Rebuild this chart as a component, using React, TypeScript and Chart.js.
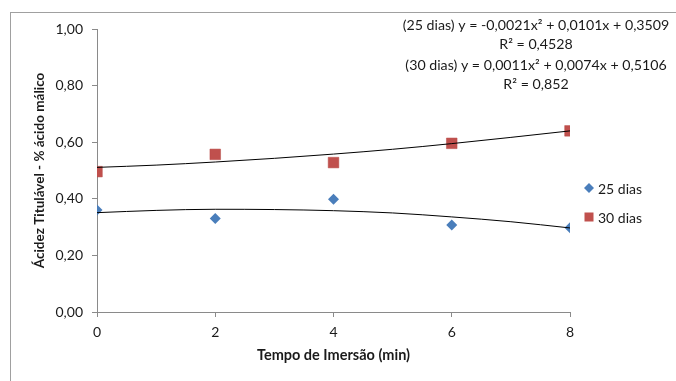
import React, { useEffect, useRef } from "react";
import { Chart, registerables } from "chart.js";

Chart.register(...registerables);

const xValues = [0, 2, 4, 6, 8];
const dias25 = [0.36, 0.33, 0.398, 0.307, 0.298];
const dias30 = [0.496, 0.557, 0.528, 0.596, 0.64];

const trendX = [0, 1, 2, 3, 4, 5, 6, 7, 8];
const trend25 = [0.351, 0.359, 0.363, 0.362, 0.358, 0.35, 0.336, 0.319, 0.297];
const trend30 = [0.511, 0.519, 0.53, 0.543, 0.558, 0.575, 0.595, 0.617, 0.64];

const seriesLabels = ["25 dias", "30 dias"];
const equationLines = [
  "(25 dias) y = -0,0021x² + 0,0101x + 0,3509",
  "R² = 0,4528",
  "(30 dias) y = 0,0011x² + 0,0074x + 0,5106",
  "R² = 0,852",
];
const yTitle = "Ácidez Titulável - % ácido málico";
const xTitle = "Tempo de Imersão (min)";

const FONT = "Lato, 'Open Sans', sans-serif";
const BLUE = "#4a7ebb";
const RED = "#c0504d";
const AXIS = "#8a8a8a";
const TEXT = "#1a1a1a";

const overlayPlugin = {
  id: "overlay",
  afterDraw(chart: any) {
    const ctx = chart.ctx;
    const area = chart.chartArea;
    ctx.save();
    // equations
    ctx.fillStyle = TEXT;
    ctx.font = `14.2px ${FONT}`;
    ctx.textAlign = "center";
    ctx.textBaseline = "middle";
    const cx = 536;
    const ys = [25, 44, 65, 84];
    equationLines.forEach((t, i) => ctx.fillText(t, cx, ys[i]));
    // legend
    const lx = area.right + 19;
    const ly = [188, 217];
    // diamond
    ctx.fillStyle = BLUE;
    ctx.beginPath();
    ctx.moveTo(lx, ly[0] - 5);
    ctx.lineTo(lx + 5, ly[0]);
    ctx.lineTo(lx, ly[0] + 5);
    ctx.lineTo(lx - 5, ly[0]);
    ctx.closePath();
    ctx.fill();
    // square
    ctx.fillStyle = RED;
    ctx.fillRect(lx - 4.5, ly[1] - 4.5, 9, 9);
    ctx.fillStyle = TEXT;
    ctx.font = `14px ${FONT}`;
    ctx.textAlign = "left";
    seriesLabels.forEach((t, i) => ctx.fillText(t, lx + 9, ly[i] + 1));
    ctx.restore();
  },
};

export default function App() {
  const ref = useRef<HTMLCanvasElement | null>(null);
  useEffect(() => {
    if (!ref.current) return;
    const chart = new Chart(ref.current, {
      type: "scatter",
      data: {
        datasets: [
          {
            label: seriesLabels[0],
            data: xValues.map((x, i) => ({ x, y: dias25[i] })),
            pointStyle: "rectRot",
            pointRadius: 5.5,
            backgroundColor: BLUE,
            borderColor: BLUE,
            borderWidth: 0,
            order: 2,
          },
          {
            label: seriesLabels[1],
            data: xValues.map((x, i) => ({ x, y: dias30[i] })),
            pointStyle: "rect",
            pointRadius: 7.5,
            backgroundColor: RED,
            borderColor: "#b64845",
            borderWidth: 0.5,
            order: 2,
          },
          {
            label: "trend25",
            data: trendX.map((x, i) => ({ x, y: trend25[i] })),
            showLine: true,
            pointRadius: 0,
            borderColor: "#000",
            borderWidth: 1,
            tension: 0.4,
            cubicInterpolationMode: "monotone",
            order: 1,
          } as any,
          {
            label: "trend30",
            data: trendX.map((x, i) => ({ x, y: trend30[i] })),
            showLine: true,
            pointRadius: 0,
            borderColor: "#000",
            borderWidth: 1,
            tension: 0.4,
            cubicInterpolationMode: "monotone",
            order: 1,
          } as any,
        ],
      },
      options: {
        animation: false,
        responsive: false,
        maintainAspectRatio: false,
        layout: { padding: { left: 0, top: 29, right: 106, bottom: 0 } },
        plugins: {
          legend: { display: false },
          tooltip: { enabled: false },
        },
        scales: {
          x: {
            type: "linear",
            min: 0,
            max: 8,
            afterFit: (s: any) => {
              s.height = 69;
            },
            ticks: {
              stepSize: 2,
              padding: 7,
              color: TEXT,
              font: { family: FONT, size: 14 },
              callback: (v: any) => String(v),
            },
            grid: {
              drawOnChartArea: false,
              drawTicks: true,
              tickLength: 5,
              color: AXIS,
            },
            border: { display: true, color: AXIS, width: 1 },
            title: {
              display: true,
              text: xTitle,
              color: TEXT,
              font: { family: FONT, size: 14.5, weight: "bold" },
              padding: { top: 0, bottom: 17 },
            },
          },
          y: {
            min: 0,
            max: 1,
            afterFit: (s: any) => {
              s.width = 97;
            },
            ticks: {
              stepSize: 0.2,
              padding: 9,
              color: TEXT,
              font: { family: FONT, size: 14 },
              callback: (v: any) => Number(v).toFixed(2).replace(".", ","),
            },
            grid: {
              drawOnChartArea: false,
              drawTicks: true,
              tickLength: 5,
              color: AXIS,
            },
            border: { display: true, color: AXIS, width: 1 },
            title: {
              display: true,
              text: yTitle,
              color: TEXT,
              font: { family: FONT, size: 13.5, weight: "bold" },
              padding: { top: 32, bottom: 0 },
            },
          },
        },
      },
      plugins: [overlayPlugin],
    });
    return () => chart.destroy();
  }, []);

  return (
    <div style={{ position: "absolute", left: 0, top: 0, width: 676, height: 381, overflow: "hidden", background: "#fff" }}>
      <div
        style={{
          position: "absolute",
          left: 10,
          top: 12,
          width: 700,
          height: 400,
          borderLeft: "1px solid #a0a0a0",
          borderTop: "1px solid #a0a0a0",
        }}
      />
      <canvas ref={ref} width={676} height={381} style={{ position: "absolute", left: 0, top: 0, width: 676, height: 381 }} />
    </div>
  );
}
